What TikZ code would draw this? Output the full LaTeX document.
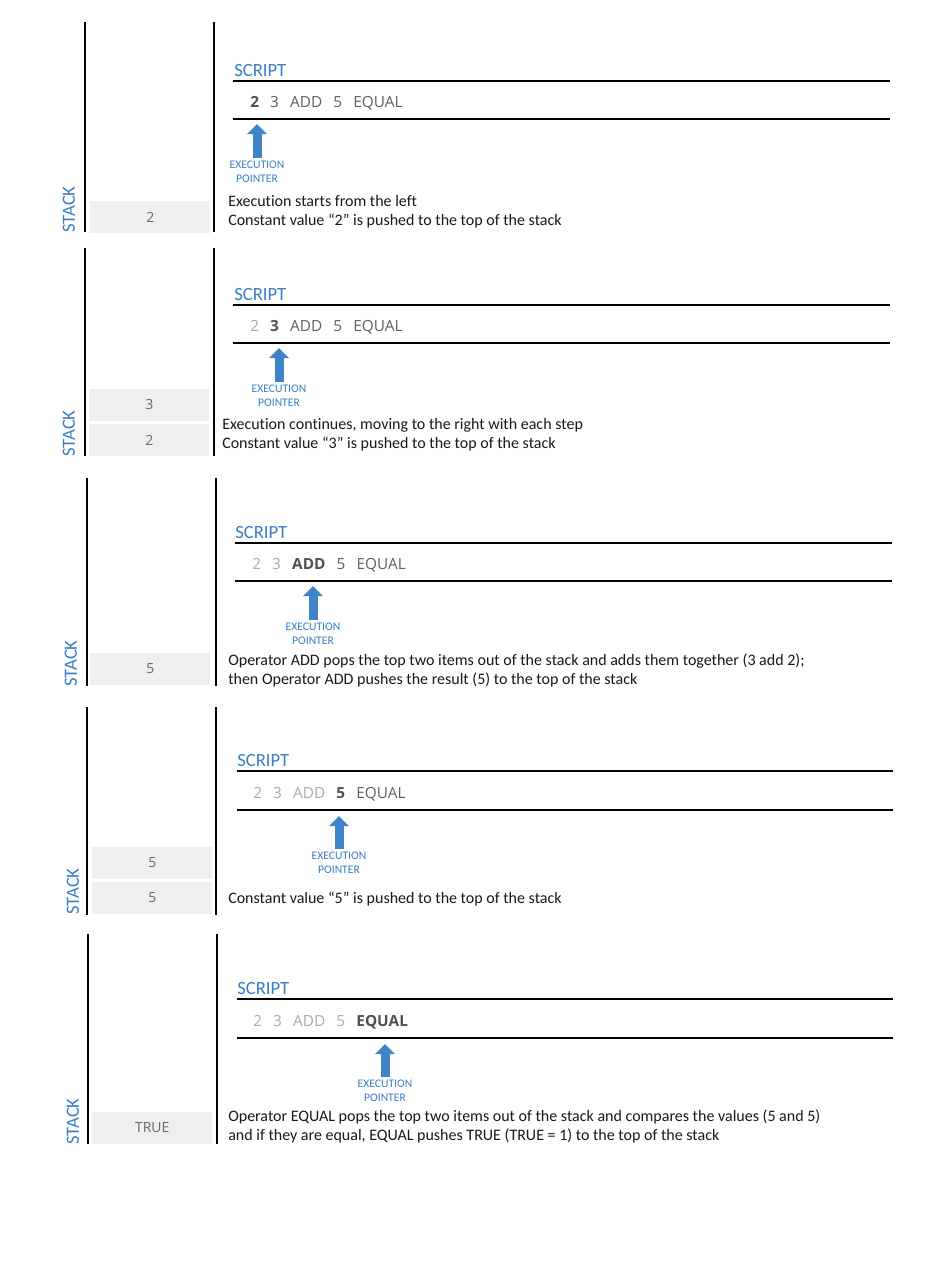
\documentclass[tikz,border=0pt]{standalone}
\usepackage{fontspec}
\setmainfont{Carlito}[Ligatures=NoCommon]
\newfontfamily\tokfont{Open Sans}
\usetikzlibrary{arrows.meta, positioning}
\definecolor{scriptblue}{RGB}{59,125,198}
\definecolor{ptrblue}{RGB}{64,132,200}
\definecolor{cellgray}{RGB}{239,239,239}
\definecolor{celltext}{RGB}{105,105,105}
\definecolor{tokwait}{RGB}{96,96,96}
\definecolor{tokdone}{RGB}{170,170,170}
\definecolor{toknow}{RGB}{80,80,80}

\begin{document}
\begin{tikzpicture}[x=0.75pt, y=-0.75pt,
    vbar/.style={line width=1.3pt},
    hbar/.style={line width=1pt},
    cell/.style={fill=cellgray, text=celltext, anchor=north west,
        minimum width=90pt, minimum height=23.5pt, inner sep=0pt,
        font=\tokfont\fontsize{10.5}{12}\selectfont},
    stacklbl/.style={rotate=90, anchor=west, inner sep=0pt, text=scriptblue,
        font=\fontsize{14}{16}\selectfont},
    title/.style={anchor=base west, inner sep=0pt, text=scriptblue,
        font=\fontsize{14}{16}\selectfont},
    tok/.style={inner sep=0pt, text=tokwait, font=\tokfont\fontsize{11.5}{14}\selectfont},
    done/.style={text=tokdone},
    now/.style={text=toknow, font=\tokfont\bfseries\fontsize{11.5}{14}\selectfont},
    eplabel/.style={anchor=north, inner sep=0pt, outer sep=2pt, align=center,
        text=scriptblue, font=\fontsize{8.7}{10.5}\selectfont},
    ptr/.style={ptrblue, line width=6.75pt, -{Triangle[width=14.5pt, length=7.5pt]}},
    desc/.style={anchor=base west, inner sep=0pt, align=left, text=black!90,
        font=\fontsize{12}{14.25}\selectfont},
    node distance=8pt]

    \fill[white] (0,0) rectangle (930,1268);

    % step 1
    \draw[vbar] (85,22) -- (85,232);
    \draw[vbar] (214,22) -- (214,232);
    \node[cell] (s1a) at (90,201) {2};
    \node[stacklbl] (st1) at (69,233) {STACK};
    \node[title] (sc1) at (234,76) {SCRIPT};
    \draw[hbar] (233,81) -- (890,81);
    \draw[hbar] (233,119) -- (890,119);
    \node[tok, now, anchor=base west] (t11) at (250,107) {2};
    \node[tok, base right=of t11] (t12) {3};
    \node[tok, base right=of t12] (t13) {ADD};
    \node[tok, base right=of t13] (t14) {5};
    \node[tok, base right=of t14] (t15) {EQUAL};
    \coordinate (tip1) at (257,124);
    \node[eplabel] (ep1) at (257,158) {EXECUTION\\POINTER};
    \draw[ptr] (ep1) -- (tip1);
    \node[desc] (d1) at (228,225) {Execution starts from the left\\
        Constant value “2” is pushed to the top of the stack};

    % step 2
    \draw[vbar] (85,248) -- (85,456);
    \draw[vbar] (214,248) -- (214,456);
    \node[cell] (s2a) at (89,389) {3};
    \node[cell] (s2b) at (89,424) {2};
    \node[stacklbl] (st2) at (69,457) {STACK};
    \node[title] (sc2) at (234,300) {SCRIPT};
    \draw[hbar] (233,305) -- (890,305);
    \draw[hbar] (233,343) -- (890,343);
    \node[tok, done, anchor=base west] (t21) at (250,331) {2};
    \node[tok, now, base right=of t21] (t22) {3};
    \node[tok, base right=of t22] (t23) {ADD};
    \node[tok, base right=of t23] (t24) {5};
    \node[tok, base right=of t24] (t25) {EQUAL};
    \coordinate (tip2) at (279,348);
    \node[eplabel] (ep2) at (279,382) {EXECUTION\\POINTER};
    \draw[ptr] (ep2) -- (tip2);
    \node[desc] (d2) at (222,448) {Execution continues, moving to the right with each step\\
        Constant value “3” is pushed to the top of the stack};

    % step 3
    \draw[vbar] (87,478) -- (87,686);
    \draw[vbar] (216,478) -- (216,686);
    \node[cell] (s3a) at (90,653) {5};
    \node[stacklbl] (st3) at (71,687) {STACK};
    \node[title] (sc3) at (235,538) {SCRIPT};
    \draw[hbar] (235,543) -- (892,543);
    \draw[hbar] (235,581) -- (892,581);
    \node[tok, done, anchor=base west] (t31) at (252,569) {2};
    \node[tok, done, base right=of t31] (t32) {3};
    \node[tok, now, base right=of t32] (t33) {ADD};
    \node[tok, base right=of t33] (t34) {5};
    \node[tok, base right=of t34] (t35) {EQUAL};
    \coordinate (tip3) at (313,586);
    \node[eplabel] (ep3) at (313,620) {EXECUTION\\POINTER};
    \draw[ptr] (ep3) -- (tip3);
    \node[desc] (d3) at (228,684) {Operator ADD pops the top two items out of the stack and adds them together (3 add 2);\\
        then Operator ADD pushes the result (5) to the top of the stack};

    % step 4
    \draw[vbar] (87,707) -- (87,915);
    \draw[vbar] (216,707) -- (216,915);
    \node[cell] (s4a) at (92,847) {5};
    \node[cell] (s4b) at (92,882) {5};
    \node[stacklbl] (st4) at (73,915) {STACK};
    \node[title] (sc4) at (237,766) {SCRIPT};
    \draw[hbar] (237,771) -- (893,771);
    \draw[hbar] (237,810) -- (893,810);
    \node[tok, done, anchor=base west] (t41) at (253,798) {2};
    \node[tok, done, base right=of t41] (t42) {3};
    \node[tok, done, base right=of t42] (t43) {ADD};
    \node[tok, now, base right=of t43] (t44) {5};
    \node[tok, base right=of t44] (t45) {EQUAL};
    \coordinate (tip4) at (339,816);
    \node[eplabel] (ep4) at (339,849) {EXECUTION\\POINTER};
    \draw[ptr] (ep4) -- (tip4);
    \node[desc] (d4) at (228,903) {Constant value “5” is pushed to the top of the stack};

    % step 5
    \draw[vbar] (88,934) -- (88,1144);
    \draw[vbar] (217,934) -- (217,1144);
    \node[cell] (s5a) at (92,1112) {TRUE};
    \node[stacklbl] (st5) at (73,1145) {STACK};
    \node[title] (sc5) at (237,994) {SCRIPT};
    \draw[hbar] (237,999) -- (893,999);
    \draw[hbar] (237,1038) -- (893,1038);
    \node[tok, done, anchor=base west] (t51) at (253,1026) {2};
    \node[tok, done, base right=of t51] (t52) {3};
    \node[tok, done, base right=of t52] (t53) {ADD};
    \node[tok, done, base right=of t53] (t54) {5};
    \node[tok, now, base right=of t54] (t55) {EQUAL};
    \coordinate (tip5) at (385,1044);
    \node[eplabel] (ep5) at (385,1077) {EXECUTION\\POINTER};
    \draw[ptr] (ep5) -- (tip5);
    \node[desc] (d5) at (228,1140) {Operator EQUAL pops the top two items out of the stack and compares the values (5 and 5)\\
        and if they are equal, EQUAL pushes TRUE (TRUE = 1) to the top of the stack};

\end{tikzpicture}
\end{document}
